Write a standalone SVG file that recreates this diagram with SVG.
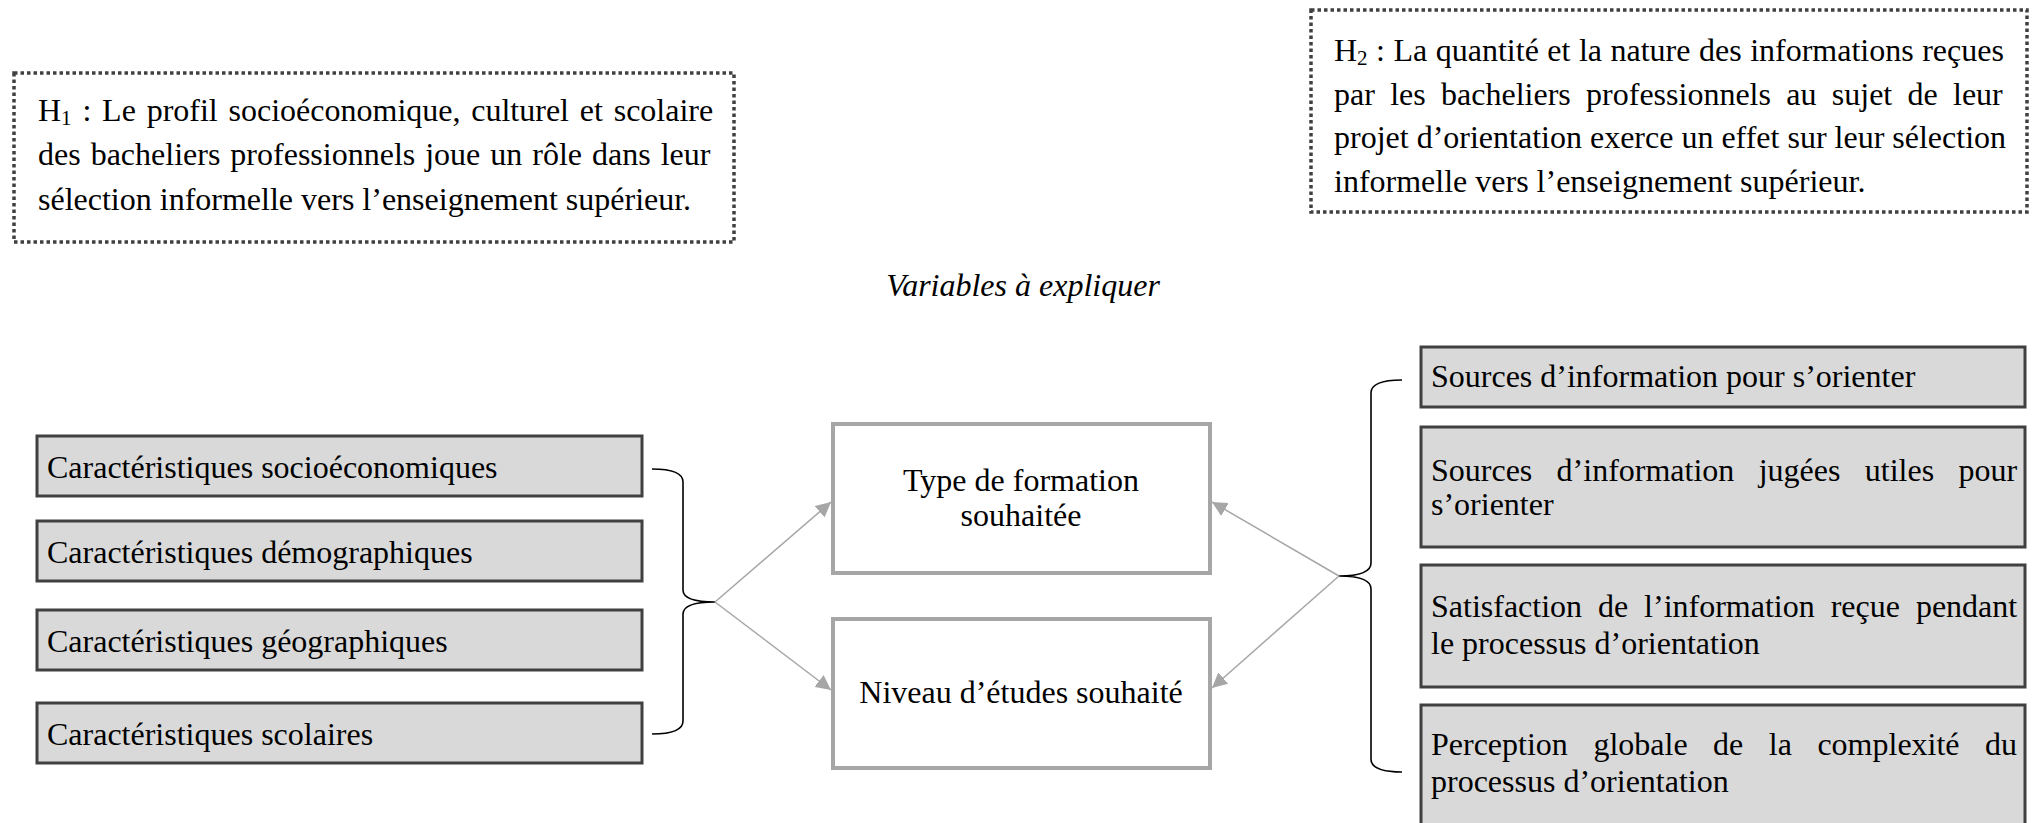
<svg xmlns="http://www.w3.org/2000/svg" width="2038" height="823" viewBox="0 0 2038 823">
<style>
text{font-family:"Liberation Serif","Times New Roman",serif;font-size:32px;fill:#000}
.hyp{fill:#fff;stroke:#404040;stroke-width:3.5;stroke-dasharray:3.5 3}
.var{fill:#d9d9d9;stroke:#404040;stroke-width:3}
.dep{fill:#fff;stroke:#a6a6a6;stroke-width:4}
.brace{fill:none;stroke:#000;stroke-width:1.6}
.arr{fill:none;stroke:#a6a6a6;stroke-width:1.5;marker-end:url(#ah)}
.c{text-anchor:middle}
</style>
<defs>
<marker id="ah" viewBox="0 0 10 10" refX="10" refY="5" markerWidth="15" markerHeight="15" markerUnits="userSpaceOnUse" orient="auto">
<path d="M0,0 L10,5 L0,10 z" fill="#a6a6a6"/>
</marker>
</defs>
<g id="h1">
<rect class="hyp" x="14" y="73" width="720" height="169"/>
<text x="38" y="121">H<tspan font-size="21" dy="4">1</tspan><tspan dy="-4" word-spacing="2.8"> : Le profil socioéconomique, culturel et scolaire</tspan></text>
<text x="38" y="165" word-spacing="2">des bacheliers professionnels joue un rôle dans leur</text>
<text x="38" y="210">sélection informelle vers l’enseignement supérieur.</text>
</g>
<g id="h2">
<rect class="hyp" x="1311" y="10" width="716" height="202"/>
<text x="1334" y="61">H<tspan font-size="21" dy="4">2</tspan><tspan dy="-4" word-spacing="0.5"> : La quantité et la nature des informations reçues</tspan></text>
<text y="105"><tspan x="1334">par</tspan><tspan x="1390.2">les</tspan><tspan x="1441.1">bacheliers</tspan><tspan x="1586.1">professionnels</tspan><tspan x="1786.3">au</tspan><tspan x="1831.8">sujet</tspan><tspan x="1907.5">de</tspan><tspan x="1953">leur</tspan></text>
<text x="1334" y="148">projet d’orientation exerce un effet sur leur sélection</text>
<text x="1334" y="192">informelle vers l’enseignement supérieur.</text>
</g>
<g id="title">
<text class="c" x="1023" y="296" font-style="italic">Variables à expliquer</text>
</g>
<g id="left1"><rect class="var" x="37" y="436" width="605" height="60"/><text x="47" y="478">Caractéristiques socioéconomiques</text></g>
<g id="left2"><rect class="var" x="37" y="521" width="605" height="60"/><text x="47" y="563">Caractéristiques démographiques</text></g>
<g id="left3"><rect class="var" x="37" y="610" width="605" height="60"/><text x="47" y="652">Caractéristiques géographiques</text></g>
<g id="left4"><rect class="var" x="37" y="703" width="605" height="60"/><text x="47" y="745">Caractéristiques scolaires</text></g>
<g id="type"><rect class="dep" x="833" y="424" width="377" height="149"/><text class="c" x="1021" y="491">Type de formation</text><text class="c" x="1021" y="526">souhaitée</text></g>
<g id="niveau"><rect class="dep" x="833" y="619" width="377" height="149"/><text class="c" x="1021" y="703">Niveau d’études souhaité</text></g>
<g id="right1"><rect class="var" x="1421" y="347" width="604" height="60"/><text x="1431" y="387">Sources d’information pour s’orienter</text></g>
<g id="right2"><rect class="var" x="1421" y="427" width="604" height="120"/>
<text y="481"><tspan x="1431">Sources</tspan><tspan x="1556.6">d’information</tspan><tspan x="1758.7">jugées</tspan><tspan x="1864.8">utiles</tspan><tspan x="1958.4">pour</tspan></text>
<text x="1431" y="515">s’orienter</text></g>
<g id="right3"><rect class="var" x="1421" y="565" width="604" height="122"/>
<text y="617"><tspan x="1431">Satisfaction</tspan><tspan x="1598">de</tspan><tspan x="1644.1">l’information</tspan><tspan x="1830.7">reçue</tspan><tspan x="1915.9">pendant</tspan></text>
<text x="1431" y="654">le processus d’orientation</text></g>
<g id="right4"><rect class="var" x="1421" y="705" width="604" height="130"/>
<text y="755"><tspan x="1431">Perception</tspan><tspan x="1593.4">globale</tspan><tspan x="1713.1">de</tspan><tspan x="1768.8">la</tspan><tspan x="1817.4">complexité</tspan><tspan x="1985.1">du</tspan></text>
<text x="1431" y="792">processus d’orientation</text></g>
<g id="connectors">
<path class="brace" d="M652,469 Q683,469 683,482 L683,590 Q683,602 715,602 Q683,602 683,614 L683,721 Q683,734 652,734"/>
<path class="brace" d="M1402,380 Q1371,380 1371,393 L1371,563 Q1371,576 1339,576 Q1371,576 1371,589 L1371,759 Q1371,772 1402,772"/>
<line class="arr" x1="715" y1="602" x2="831" y2="502"/>
<line class="arr" x1="715" y1="602" x2="831" y2="690"/>
<line class="arr" x1="1339" y1="576" x2="1212" y2="502"/>
<line class="arr" x1="1339" y1="576" x2="1212" y2="688"/>
</g>
</svg>
